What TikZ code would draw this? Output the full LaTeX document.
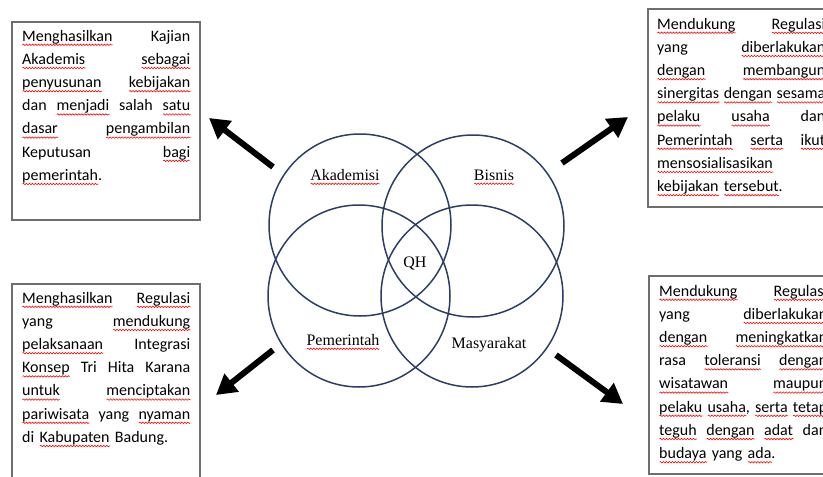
\documentclass[tikz,border=0pt]{standalone}
\usepackage{fontspec}
\setmainfont{Carlito}
\newfontfamily\vennfont{Liberation Serif}
\usepackage{xcolor}
\usepackage{tikz}
\usetikzlibrary{arrows.meta,decorations.pathmorphing}

\definecolor{vennblue}{RGB}{44,62,100}
\definecolor{boxgray}{RGB}{110,110,110}

\newsavebox\typobox
\newcommand\typo[1]{\sbox\typobox{#1}\rlap{\tikz[baseline=0pt,x=1pt,y=1pt]\draw[red,line width=0.6pt,decorate,decoration={snake,amplitude=0.7pt,segment length=3pt}] (0,-3.8) -- (\wd\typobox,-3.8);}\usebox\typobox}
\newcommand\jline[1]{\hbox to 168pt{#1}}
\newcommand\lastline[1]{\hbox to 168pt{#1\hfil}}

\begin{document}
\begin{tikzpicture}[x=1pt,y=-1pt,
		venn/.style={circle,draw=vennblue,line width=1.5pt,minimum size=182pt,inner sep=0pt},
		vlabel/.style={anchor=base,inner sep=0pt,font=\vennfont\fontsize{16}{19}\selectfont},
		box/.style={draw=boxgray,line width=1.5pt,anchor=north west,minimum width=188pt,minimum height=198pt,inner sep=0pt},
		boxtext/.style={anchor=base west,inner sep=0pt,text width=168pt,font=\fontsize{16}{23.2}\selectfont},
		push/.style={line width=6pt,-{Triangle[length=20pt,width=22pt]}}]
				\useasboundingbox (0,0) rectangle (823,477);
				\clip (0,0) rectangle (823,477);

				\node [venn] (akademisi) at (360,225) {};
				\node [venn] (bisnis) at (473,226) {};
				\node [venn] (pemerintah) at (359,296) {};
				\node [venn] (masyarakat) at (472,296) {};

				\node [vlabel] (akLabel) at (345,180) {\typo{Akademisi}};
				\node [vlabel] (bsLabel) at (494,180) {\typo{Bisnis}};
				\node [vlabel] (qhLabel) at (415,267) {QH};
				\node [vlabel] (pmLabel) at (343,345) {\typo{Pemerintah}};
				\node [vlabel] (msLabel) at (489,348) {Masyarakat};

				\node [box] (akBox) at (11,21) {};
				\node [boxtext] (akText) at (22,41) {\jline{\typo{Menghasilkan}\hfill Kajian}
					\jline{\typo{Akademis}\hfill \typo{sebagai}}
					\jline{\typo{penyusunan}\hfill \typo{kebijakan}}
					\jline{dan\hfill \typo{menjadi}\hfill salah\hfill \typo{satu}}
					\jline{\typo{dasar}\hfill \typo{pengambilan}}
					\jline{Keputusan\hfill \typo{bagi}}
					\lastline{\typo{pemerintah}.}};

				\node [box] (bsBox) at (647,8) {};
				\node [boxtext] (bsText) at (657,29) {\jline{\typo{Mendukung}\hfill \typo{Regulasi}}
					\jline{yang\hfill \typo{diberlakukan}}
					\jline{\typo{dengan}\hfill \typo{membangun}}
					\jline{\typo{sinergitas}\hfill \typo{dengan}\hfill \typo{sesama}}
					\jline{\typo{pelaku}\hfill \typo{usaha}\hfill dan}
					\jline{\typo{Pemerintah}\hfill \typo{serta}\hfill \typo{ikut}}
					\lastline{\typo{mensosialisasikan}}
					\lastline{\typo{kebijakan} \typo{tersebut}.}};

				\node [box] (pmBox) at (11,283) {};
				\node [boxtext] (pmText) at (22,303) {\jline{\typo{Menghasilkan}\hfill \typo{Regulasi}}
					\jline{yang\hfill \typo{mendukung}}
					\jline{\typo{pelaksanaan}\hfill Integrasi}
					\jline{\typo{Konsep}\hfill Tri\hfill Hita\hfill Karana}
					\jline{\typo{untuk}\hfill \typo{menciptakan}}
					\jline{\typo{pariwisata}\hfill yang\hfill \typo{nyaman}}
					\lastline{di \typo{Kabupaten} Badung.}};

				\node [box] (msBox) at (648,275) {};
				\node [boxtext] (msText) at (659,296) {\jline{\typo{Mendukung}\hfill \typo{Regulasi}}
					\jline{yang\hfill \typo{diberlakukan}}
					\jline{\typo{dengan}\hfill \typo{meningkatkan}}
					\jline{rasa\hfill \typo{toleransi}\hfill \typo{dengan}}
					\jline{\typo{wisatawan}\hfill \typo{maupun}}
					\jline{\typo{pelaku}\hfill \typo{usaha},\hfill \typo{serta}\hfill \typo{tetap}}
					\jline{\typo{teguh}\hfill \typo{dengan}\hfill \typo{adat}\hfill dan}
					\lastline{\typo{budaya} yang \typo{ada}.}};

				\coordinate (akTail) at (273,167);
				\coordinate (akTip) at (209,118);
				\coordinate (bsTail) at (562,163);
				\coordinate (bsTip) at (628,117);
				\coordinate (pmTail) at (273,350);
				\coordinate (pmTip) at (216,395);
				\coordinate (msTail) at (556,355);
				\coordinate (msTip) at (623,404);

				\draw [push] (akTail) -- (akTip);
				\draw [push] (bsTail) -- (bsTip);
				\draw [push] (pmTail) -- (pmTip);
				\draw [push] (msTail) -- (msTip);
			\end{tikzpicture}
\end{document}
